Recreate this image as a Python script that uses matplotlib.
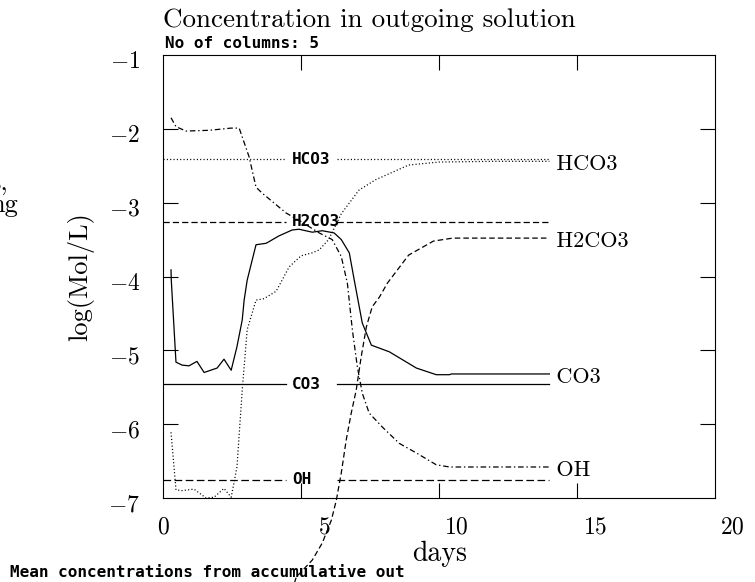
import matplotlib
matplotlib.use('Agg')
import matplotlib.pyplot as plt
import matplotlib.transforms as mtransforms

plt.rcParams['mathtext.fontset'] = 'cm'
plt.rcParams['lines.scale_dashes'] = False

# ---- data (days, log(Mol/L)) ----
co3_t = [0.29, 0.3, 0.47, 0.69, 0.94, 1.23, 1.49, 1.96, 2.21, 2.47, 2.68, 2.87, 2.94, 3.05,
         3.37, 3.74, 4.2, 4.68, 4.93, 5.41, 5.77, 6.2, 6.46, 6.75, 6.93, 7.22, 7.55, 8.2,
         9.18, 9.9, 10.38, 10.45, 12.0, 14.0]
co3_c = [-3.91, -4.05, -5.16, -5.2, -5.21, -5.15, -5.3, -5.24, -5.12, -5.27, -4.95, -4.59, -4.32, -4.05,
         -3.57, -3.55, -3.45, -3.37, -3.36, -3.40, -3.38, -3.41, -3.5, -3.68, -4.05, -4.63, -4.93, -5.02,
         -5.24, -5.33, -5.33, -5.32, -5.32, -5.32]

hco3_t = [0.29, 0.47, 0.69, 1.12, 1.56, 1.85, 2.21, 2.47, 2.68, 2.87, 3.05, 3.37, 3.66, 4.1,
          4.57, 5.0, 5.4, 5.66, 6.0, 6.46, 7.1, 7.7, 8.9, 10.0, 12.0, 14.0]
hco3_c = [-6.11, -6.89, -6.9, -6.88, -7.0, -6.99, -6.87, -6.99, -6.58, -5.54, -4.72, -4.32, -4.3, -4.2,
          -3.87, -3.72, -3.68, -3.64, -3.5, -3.15, -2.83, -2.69, -2.49, -2.45, -2.44, -2.44]

h2co3_t = [4.3, 4.83, 5.41, 5.77, 6.1, 6.28, 6.46, 6.64, 6.82, 7.0, 7.18, 7.37, 7.58, 7.84,
           8.13, 8.9, 9.8, 10.5, 12.0, 14.0]
h2co3_c = [-8.7, -8.07, -7.84, -7.61, -7.3, -7.03, -6.66, -6.21, -5.85, -5.54, -5.09, -4.68, -4.41, -4.28,
           -4.09, -3.71, -3.52, -3.48, -3.48, -3.48]

oh_t = [0.29, 0.47, 0.83, 1.67, 2.47, 2.76, 3.12, 3.37, 3.59, 4.46, 4.93, 5.66, 6.13, 6.46,
        6.68, 6.86, 7.04, 7.22, 7.47, 7.95, 8.56, 9.18, 9.9, 10.38, 12.0, 14.0]
oh_c = [-1.85, -1.97, -2.03, -2.02, -1.99, -1.99, -2.38, -2.79, -2.87, -3.14, -3.24, -3.41, -3.5, -3.73,
        -4.09, -4.72, -5.22, -5.58, -5.85, -6.04, -6.26, -6.39, -6.55, -6.58, -6.58, -6.58]

species = ['HCO3', 'H2CO3', 'CO3', 'OH']
curves_t = [hco3_t, h2co3_t, co3_t, oh_t]
curves_c = [hco3_c, h2co3_c, co3_c, oh_c]

# mean concentrations from accumulative out
mean_vals = [-2.41, -3.26, -5.46, -6.75]
mean_end = 14.0

x_ticks = [0, 5, 10, 15, 20]
y_ticks = [-1, -2, -3, -4, -5, -6, -7]

# ---- styles ----
curve_ls = {'HCO3': (0, (0.8, 1.6)), 'H2CO3': (0, (4.0, 2.2)),
            'CO3': '-', 'OH': (0, (4.0, 2.0, 1.0, 2.0))}
mean_ls = {'HCO3': (0, (0.8, 1.6)), 'H2CO3': (0, (4.5, 2.2)),
           'CO3': '-', 'OH': (0, (5.5, 2.5))}
label_gap = (4.45, 6.3)
label_x = 4.68

serif = 'cmr10'
mono = {'family': 'DejaVu Sans Mono', 'weight': 'bold', 'size': 11.5}

W, H = 755, 582
fig = plt.figure(figsize=(W / 100, H / 100), dpi=100)
ax = fig.add_axes([163 / W, 1 - 498 / H, 552 / W, 443 / H])
ax.set_xlim(0, 20)
ax.set_ylim(-7, -1)

for name, t, c in zip(species, curves_t, curves_c):
    ax.plot(t, c, color='black', lw=0.9, ls=curve_ls[name], clip_on=False)
    ax.text(t[-1], c[-1], ' ' + name, fontfamily=serif, fontsize=16, ha='left', va='center',
            transform=ax.transData + mtransforms.ScaledTranslation(0, -3 / 100, fig.dpi_scale_trans))

for name, m in zip(species, mean_vals):
    ax.plot([0, label_gap[0]], [m, m], color='black', lw=0.9, ls=mean_ls[name])
    ax.plot([label_gap[1], mean_end], [m, m], color='black', lw=0.9, ls=mean_ls[name])
    ax.text(label_x, m, name, fontdict=mono, ha='left', va='center')

# ticks (inward, on all sides) with hand placed labels like the original
ax.set_xticks([v for v in x_ticks if 0 < v < 20])
ax.set_yticks([v for v in y_ticks if -7 < v < -1])
ax.tick_params(direction='in', length=10.5, width=0.8, top=True, right=True,
               labelbottom=False, labelleft=False)
for sp in ax.spines.values():
    sp.set_linewidth(0.8)

xt = mtransforms.blended_transform_factory(ax.transData, ax.transAxes)
for v in x_ticks:
    if v == 0:
        off, ha = 0, 'center'
    else:
        off, ha = 30, 'right'
    ax.text(v, 0, r'$%d$' % v, fontsize=17, ha=ha, va='baseline',
            transform=xt + mtransforms.ScaledTranslation(off / 100, -35 / 100, fig.dpi_scale_trans))

yt = mtransforms.blended_transform_factory(ax.transAxes, ax.transData)
for v in y_ticks:
    ax.text(0, v, r'$%d$' % v, fontsize=17, ha='right', va='baseline',
            transform=yt + mtransforms.ScaledTranslation(-23 / 100, -13 / 100, fig.dpi_scale_trans))

# axis labels and titles
fig.text(440 / W, 1 - 554 / H, 'days', fontfamily=serif, fontsize=20, ha='center', va='center')
fig.text(81 / W, 1 - 277 / H, 'log(Mol/L)', fontfamily=serif, fontsize=19, rotation=90,
         ha='center', va='center')
fig.text(163 / W, 1 - 27 / H, 'Concentration in outgoing solution', fontfamily=serif, fontsize=19.5,
         ha='left', va='baseline')
fig.text(165 / W, 1 - 48 / H, 'No of columns: 5', fontdict=mono, ha='left', va='baseline')
fig.text(10 / W, 1 - 577 / H, 'Mean concentrations from accumulative out', fontdict=mono,
         ha='left', va='baseline')

# fragments of a cut off text at the left edge
fig.text(8 / W, 1 - 190 / H, 's,', fontfamily=serif, fontsize=19, ha='right', va='baseline')
fig.text(18 / W, 1 - 212 / H, 'ng', fontfamily=serif, fontsize=19, ha='right', va='baseline')

fig.savefig('out.png', dpi=100, facecolor='white')
